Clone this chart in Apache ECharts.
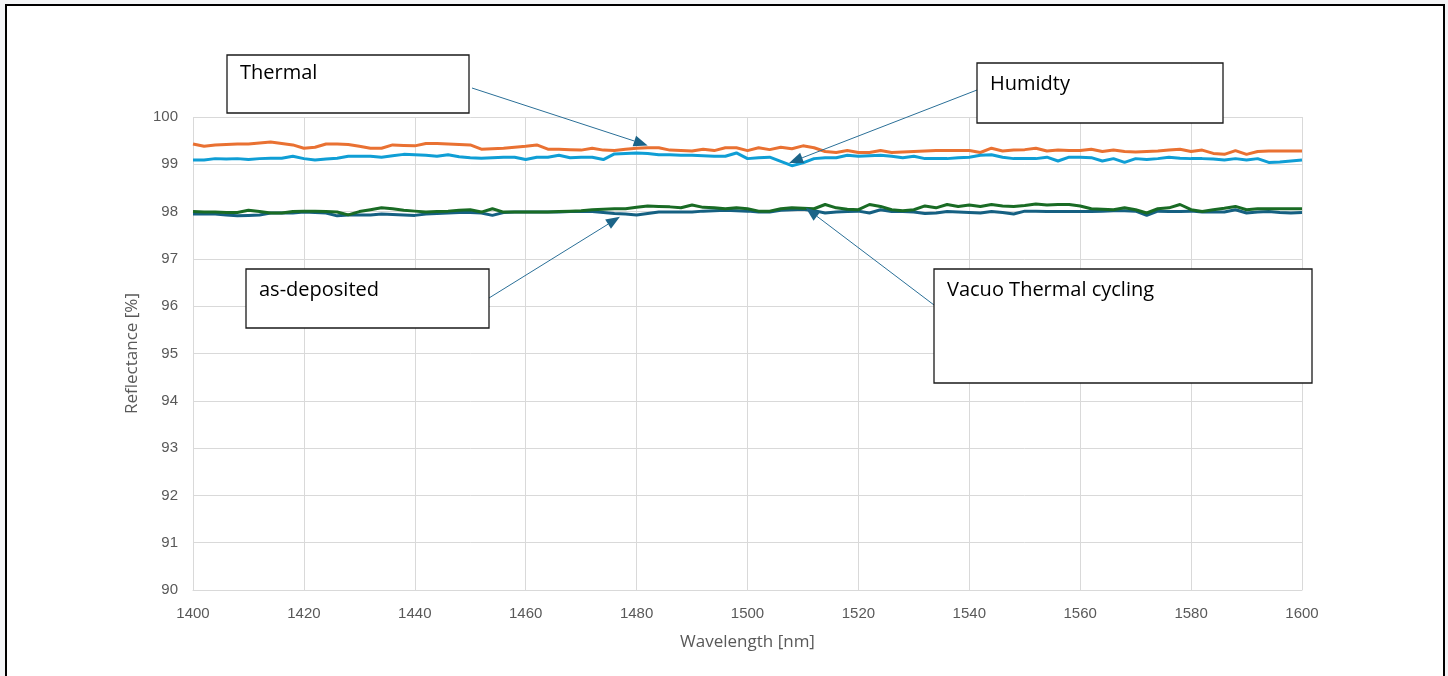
<!DOCTYPE html>
<html>
<head>
<meta charset="utf-8">
<script src="https://cdn.jsdelivr.net/npm/echarts@6/dist/echarts.min.js"></script>
<style>
html,body{margin:0;padding:0;background:#f4f5f7;overflow:hidden;}
#frame{position:absolute;left:5px;top:4px;width:1436px;height:720px;border:2px solid #000;background:#fff;}
#chart{position:absolute;left:0;top:0;width:1448px;height:676px;}
</style>
</head>
<body>
<div id="frame"></div>
<div id="chart"></div>
<script>
// ---- data ----
const wavelengths = [];
for (let w = 1400; w <= 1600; w += 2) wavelengths.push(w);

const asDeposited = [97.95,97.95,97.95,97.93,97.91,97.92,97.93,97.97,97.97,97.97,97.99,97.98,97.97,97.91,97.93,97.93,97.93,97.95,97.94,97.93,97.92,97.95,97.96,97.97,97.98,97.98,97.97,97.92,97.98,97.99,97.99,97.99,97.99,97.99,98.00,98.00,98.00,97.98,97.96,97.95,97.93,97.96,97.99,97.99,97.99,97.99,98.01,98.02,98.03,98.02,98.01,97.99,97.99,98.03,98.04,98.05,98.02,97.97,97.99,98.00,98.01,97.97,98.04,98.00,98.00,97.99,97.96,97.97,98.00,97.99,97.98,97.97,98.00,97.98,97.95,98.01,98.01,98.00,98.00,98.00,98.00,98.00,98.01,98.02,98.02,98.01,97.92,98.01,98.00,98.00,98.01,97.99,97.99,97.99,98.04,97.97,97.99,98.00,97.98,97.97,97.98];

const thermal = [99.43,99.38,99.41,99.42,99.43,99.43,99.45,99.47,99.44,99.41,99.34,99.36,99.43,99.43,99.42,99.38,99.34,99.34,99.41,99.40,99.39,99.44,99.44,99.43,99.42,99.41,99.32,99.33,99.34,99.36,99.38,99.41,99.32,99.32,99.31,99.30,99.34,99.30,99.29,99.32,99.34,99.35,99.35,99.30,99.29,99.28,99.32,99.29,99.35,99.35,99.29,99.35,99.31,99.36,99.33,99.39,99.35,99.27,99.25,99.29,99.25,99.25,99.29,99.25,99.26,99.27,99.28,99.29,99.29,99.29,99.29,99.25,99.34,99.28,99.30,99.31,99.34,99.28,99.30,99.29,99.29,99.32,99.27,99.30,99.27,99.26,99.27,99.28,99.30,99.32,99.27,99.30,99.23,99.21,99.29,99.21,99.27,99.28,99.28,99.28,99.28];

const vacuoThermalCycling = [98.00,97.99,97.99,97.98,97.98,98.03,98.00,97.97,97.97,98.00,98.01,98.01,98.00,97.99,97.93,98.00,98.04,98.08,98.06,98.03,98.01,97.99,98.00,98.01,98.03,98.04,97.99,98.06,97.99,97.99,97.99,97.99,97.99,98.00,98.01,98.02,98.04,98.05,98.06,98.06,98.09,98.12,98.11,98.10,98.08,98.14,98.09,98.08,98.06,98.08,98.06,98.01,98.01,98.06,98.08,98.07,98.06,98.15,98.08,98.05,98.04,98.15,98.11,98.04,98.02,98.04,98.12,98.08,98.15,98.11,98.14,98.11,98.15,98.12,98.11,98.13,98.16,98.14,98.15,98.15,98.12,98.06,98.05,98.04,98.08,98.04,97.97,98.06,98.08,98.15,98.04,98.00,98.04,98.07,98.11,98.04,98.06,98.06,98.06,98.06,98.06];

const humidity = [99.09,99.09,99.12,99.11,99.12,99.10,99.12,99.13,99.13,99.17,99.12,99.09,99.11,99.13,99.17,99.17,99.17,99.15,99.18,99.21,99.20,99.19,99.17,99.20,99.16,99.14,99.13,99.14,99.15,99.15,99.10,99.15,99.15,99.19,99.14,99.15,99.15,99.10,99.22,99.23,99.24,99.23,99.20,99.20,99.19,99.19,99.18,99.17,99.17,99.24,99.12,99.14,99.15,99.06,98.97,99.03,99.12,99.14,99.14,99.19,99.17,99.18,99.19,99.17,99.14,99.17,99.12,99.12,99.12,99.14,99.15,99.19,99.20,99.15,99.12,99.12,99.12,99.15,99.07,99.15,99.15,99.14,99.07,99.12,99.04,99.12,99.10,99.12,99.15,99.13,99.12,99.12,99.11,99.09,99.12,99.09,99.12,99.04,99.05,99.07,99.09];

const seriesNames = ['as-deposited', 'Thermal', 'Vacuo Thermal cycling', 'Humidty'];
const xTicks = [1400,1420,1440,1460,1480,1500,1520,1540,1560,1580,1600];
const yTicks = [90,91,92,93,94,95,96,97,98,99,100];

// annotation callouts: label, box [left, top, width, height] in px, arrow tip in data coords
const callouts = [
  { label: 'Thermal', box: [227, 55, 242, 58], textDy: 8, from: [472, 88], tip: [1482, 99.40] },
  { label: 'Humidty', box: [977, 63, 246, 60], textDy: 11, from: [977, 90], tip: [1507.5, 99.03] },
  { label: 'as-deposited', box: [246, 269, 243, 59], textDy: 11, from: [489, 298], tip: [1477, 97.89] },
  { label: 'Vacuo Thermal cycling', box: [934, 269, 378, 114], textDy: 11, from: [934, 305], tip: [1510.5, 98.08] }
];

const colors = ['#156082', '#E97132', '#196B24', '#0F9ED5'];
const allData = [asDeposited, thermal, vacuoThermalCycling, humidity];

const chart = echarts.init(document.getElementById('chart'), null, { renderer: 'canvas' });
const tickFont = { color: '#595959', fontSize: 15, fontFamily: 'Liberation Sans, Arial, sans-serif' };

chart.setOption({
  animation: false,
  backgroundColor: 'transparent',
  grid: { left: 193, right: 146, top: 117, bottom: 86, containLabel: false },
  xAxis: {
    type: 'value', min: 1400, max: 1600, interval: 20,
    name: 'Wavelength [nm]', nameLocation: 'middle', nameGap: 44,
    nameTextStyle: { color: '#595959', fontSize: 17, fontFamily: 'Open Sans, sans-serif' },
    axisLine: { lineStyle: { color: '#d9d9d9', width: 1 } },
    axisTick: { show: false },
    axisLabel: Object.assign({ margin: 16, formatter: v => String(v) }, tickFont),
    splitLine: { show: true, lineStyle: { color: '#d9d9d9', width: 1 } }
  },
  yAxis: {
    type: 'value', min: 90, max: 100, interval: 1,
    name: 'Reflectance [%]', nameLocation: 'middle', nameGap: 52, nameRotate: 90,
    nameTextStyle: { color: '#595959', fontSize: 17, fontFamily: 'Open Sans, sans-serif' },
    axisLine: { show: false },
    axisTick: { show: false },
    axisLabel: Object.assign({ margin: 15, formatter: v => String(v) }, tickFont),
    splitLine: { show: true, lineStyle: { color: '#d9d9d9', width: 1 } }
  },
  series: allData.map((d, i) => ({
    name: seriesNames[i],
    type: 'line',
    showSymbol: false,
    symbol: 'none',
    data: d.map((v, j) => [wavelengths[j], v]),
    lineStyle: { color: colors[i], width: 3 },
    itemStyle: { color: colors[i] },
    z: 3
  }))
});

// build callout graphics (arrow tips mapped through the axes)
const graphics = [];
callouts.forEach(c => {
  const [bx, by, bw, bh] = c.box;
  graphics.push({
    type: 'rect', shape: { x: bx, y: by, width: bw, height: bh },
    style: { fill: '#fff', stroke: '#1a1a1a', lineWidth: 1.3 }, z: 50
  });
  graphics.push({
    type: 'text', x: bx + 13, y: by + c.textDy,
    style: { text: c.label, fill: '#000', font: '20px "Open Sans", sans-serif', textVerticalAlign: 'top' }, z: 51
  });
  const tip = chart.convertToPixel({ gridIndex: 0 }, c.tip);
  const [fx, fy] = c.from;
  const ang = Math.atan2(tip[1] - fy, tip[0] - fx);
  const L = 14, W = 5.5;
  const baseX = tip[0] - L * Math.cos(ang), baseY = tip[1] - L * Math.sin(ang);
  const nx = -Math.sin(ang), ny = Math.cos(ang);
  graphics.push({
    type: 'line', shape: { x1: fx, y1: fy, x2: baseX, y2: baseY },
    style: { stroke: '#2a6f97', lineWidth: 1 }, z: 49
  });
  graphics.push({
    type: 'polygon',
    shape: { points: [[tip[0], tip[1]], [baseX + nx * W, baseY + ny * W], [baseX - nx * W, baseY - ny * W]] },
    style: { fill: '#1c6488' }, z: 49
  });
});
chart.setOption({ graphic: graphics });
</script>
</body>
</html>
